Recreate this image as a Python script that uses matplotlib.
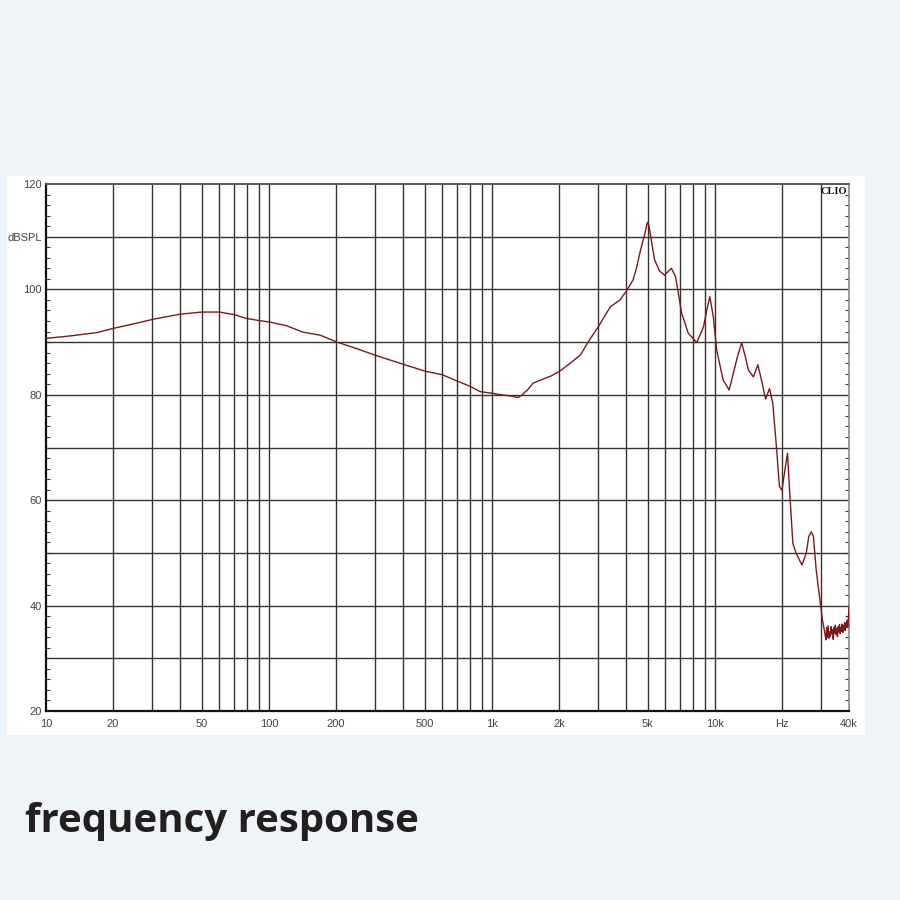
import matplotlib
matplotlib.use("Agg")
import matplotlib.pyplot as plt
from matplotlib.ticker import FixedLocator, NullFormatter, NullLocator

# ---- data ----
freq_hz = [10, 13, 16.9, 20, 25, 30, 40, 50, 60, 70,
           79, 90, 101, 120, 142, 170, 202, 250, 300, 400,
           500, 600, 700, 800, 885, 1000, 1100, 1200, 1310, 1360,
           1450, 1530, 1700, 1850, 2000, 2250, 2500, 2700, 3000, 3400,
           3760, 4000, 4300, 4450, 4630, 4850, 4980, 5060, 5160, 5370, 5650, 5950,
           6390, 6670, 7100, 7600, 8300, 8900, 9200, 9500, 9850, 10200, 10900,
           11600, 12000, 12600, 13200, 13700, 14150, 14900, 15600, 16200, 16900, 17600, 18200,
           18900, 19500, 20000, 20800, 21200, 21600, 22400, 23200, 24600, 25700,
           26400, 27100, 27700, 28500, 29500, 30400, 31200,
           31500, 31750, 32000, 32250, 32500, 32750, 33000, 33250, 33500, 33750,
           34000, 34250, 34500, 34750, 35000, 35250, 35500, 35750, 36000, 36250,
           36500, 36750, 37000, 37250, 37500, 37750, 38000, 38250, 38500, 38750,
           39000, 39250, 39500, 39750, 40000]
spl_db = [90.7, 91.2, 91.8, 92.6, 93.5, 94.3, 95.3, 95.7, 95.7, 95.2,
          94.5, 94.1, 93.8, 93.1, 91.9, 91.3, 90.0, 88.7, 87.5, 85.8,
          84.5, 83.8, 82.6, 81.6, 80.6, 80.3, 80.0, 79.8, 79.5, 79.9,
          81.0, 82.2, 83.0, 83.6, 84.4, 86.0, 87.6, 90.0, 92.9, 96.7,
          98.0, 99.6, 101.8, 104.0, 107.2, 110.5, 112.7, 112.2, 110.0, 105.6, 103.5, 102.7,
          104.0, 102.4, 95.5, 91.7, 89.9, 92.9, 96.0, 98.6, 94.8, 88.5, 82.8,
          80.9, 83.4, 87.0, 89.9, 87.3, 84.7, 83.4, 85.7, 82.8, 79.2, 81.2, 78.4,
          70.2, 62.6, 61.9, 66.7, 68.9, 62.6, 51.8, 49.9, 47.7, 49.9,
          53.1, 54.0, 53.1, 46.8, 41.7, 37.3, 34.7,
          33.5, 35.8, 34.0, 36.2, 33.8, 35.0, 34.2, 36.0, 34.6, 35.4,
          33.6, 35.9, 34.8, 36.3, 34.5, 35.6, 34.1, 36.0, 35.0, 36.4,
          34.7, 35.8, 35.1, 36.5, 34.9, 36.2, 35.4, 36.8, 35.3, 36.6,
          35.9, 37.2, 36.0, 37.5, 39.8]

x_tick_vals = [10, 20, 50, 100, 200, 500, 1000, 2000, 5000, 10000, 20000, 40000]
x_tick_labels = ["10", "20", "50", "100", "200", "500", "1k", "2k", "5k", "10k", "Hz", "40k"]
y_tick_vals = [20, 40, 60, 80, 100, 110, 120]
y_tick_labels = ["20", "40", "60", "80", "100", "dBSPL", "120"]

title_text = "frequency response"

# ---- figure ----
bg = "#eff4f8"
fig = plt.figure(figsize=(9, 9), dpi=100, facecolor=bg)

# white panel
panel = fig.add_axes([7/900, 1-735/900, (865-7)/900, (735-176)/900])
panel.set_facecolor("white")
for s in panel.spines.values():
    s.set_visible(False)
panel.set_xticks([]); panel.set_yticks([])

ax = fig.add_axes([46/900, 1-711/900, (849-46)/900, (711-184)/900])
ax.set_facecolor("white")
ax.set_xscale("log")
ax.set_xlim(10, 40000)
ax.set_ylim(20, 120)

# grid lines
grid_x = []
for dec in [10, 100, 1000, 10000]:
    for m in range(1, 10):
        v = dec * m
        if 10 < v < 40000:
            grid_x.append(v)
grid_x += [20000, 30000]
grid_x = sorted(set(grid_x))
for gx in grid_x:
    ax.axvline(gx, color="#333333", lw=1.0, zorder=1)
for gy in range(30, 120, 10):
    ax.axhline(gy, color="#333333", lw=1.0, zorder=1)

ax.plot(freq_hz, spl_db, color="#7a1a1a", lw=1.0, zorder=3)

# ticks
ax.xaxis.set_major_locator(FixedLocator(x_tick_vals))
ax.set_xticklabels(x_tick_labels)
ax.xaxis.set_minor_locator(NullLocator())
ax.xaxis.set_minor_formatter(NullFormatter())
ax.tick_params(axis="x", which="major", length=0, pad=6, labelsize=8,
               labelcolor="#444444")
for lbl in ax.get_xticklabels():
    lbl.set_fontfamily("Liberation Sans")

ax.set_yticks(y_tick_vals)
ax.set_yticklabels(y_tick_labels)
ax.set_yticks(list(range(22, 120, 2)), minor=True)
ax.tick_params(axis="y", which="major", length=0, pad=3, labelsize=8,
               labelcolor="#444444")
ax.tick_params(axis="y", which="minor", direction="in", length=3, width=0.8,
               left=True, right=True, color="#333333")
for lbl in ax.get_yticklabels():
    lbl.set_fontfamily("Liberation Sans")

for side in ["left", "bottom"]:
    ax.spines[side].set_color("#111111")
    ax.spines[side].set_linewidth(1.6)
ax.spines["top"].set_color("#555555")
ax.spines["top"].set_linewidth(1.4)
ax.spines["right"].set_color("#888888")
ax.spines["right"].set_linewidth(1.2)

ax.text(0.997, 0.995, "CLIO", transform=ax.transAxes, ha="right", va="top",
        fontsize=7.5, fontweight="bold", family="Liberation Serif", color="#111111",
        zorder=5)

fig.text(25/900, 1-832/900, title_text, fontsize=29, fontweight="bold",
         family="Open Sans", color="#231f20", ha="left", va="baseline")

fig.savefig("out.png", dpi=100, facecolor=bg)
